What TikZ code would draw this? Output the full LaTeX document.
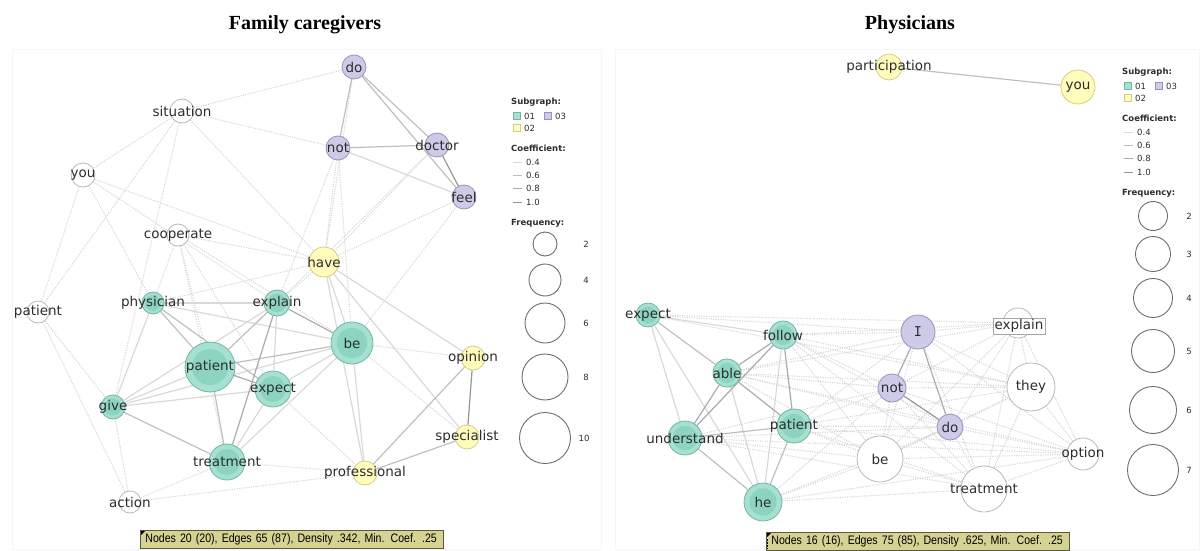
\documentclass[tikz,border=0pt]{standalone}
\usepackage{fontspec}
\newfontfamily\lblfont{DejaVu Sans}
\newfontfamily\serifI{DejaVu Sans Mono}
\newfontfamily\titlefont{Liberation Serif}
\newfontfamily\barfont[FakeStretch=0.86]{Liberation Sans}
\usetikzlibrary{backgrounds}

\definecolor{tout}{RGB}{166,224,208}
\definecolor{tin}{RGB}{140,212,192}
\definecolor{tbord}{RGB}{112,182,162}
\definecolor{pout}{RGB}{206,203,232}
\definecolor{pin}{RGB}{190,186,222}
\definecolor{pbord}{RGB}{150,146,190}
\definecolor{yfill}{RGB}{255,252,188}
\definecolor{ybord}{RGB}{212,206,132}
\definecolor{txtgray}{RGB}{45,45,45}
\definecolor{barfill}{RGB}{214,210,146}
\definecolor{bardraw}{RGB}{90,90,60}

\tikzset{
  lbl/.style={font=\lblfont\fontsize{13.5}{15}\selectfont, text=txtgray, inner sep=0pt},
  wnode/.style={circle, draw=gray!55, fill=white, line width=0.8pt, inner sep=0pt,
    minimum size={2*#1pt}},
  ynode/.style={circle, draw=ybord, fill=yfill, line width=0.8pt, inner sep=0pt,
    minimum size={2*#1pt}},
  tnode/.style={circle, draw=tbord, fill=tout, line width=0.8pt, inner sep=0pt,
    minimum size={2*#1pt},
    path picture={\fill[tin] (path picture bounding box.center) circle[radius={0.72*#1pt}];}},
  pnode/.style={circle, draw=pbord, fill=pout, line width=0.8pt, inner sep=0pt,
    minimum size={2*#1pt},
    path picture={\fill[pin] (path picture bounding box.center) circle[radius={0.72*#1pt}];}},
  dt/.style={draw=gray!32, line width=1.1pt, dash pattern=on 1.1pt off 1.3pt},
  c4/.style={draw=gray!30, line width=1.2pt},
  c6/.style={draw=gray!50, line width=1.2pt},
  c8/.style={draw=gray!66, line width=1.2pt},
  c10/.style={draw=gray!82, line width=1.2pt},
  leghead/.style={font=\lblfont\bfseries\fontsize{8.5}{10}\selectfont, text=txtgray, anchor=west, inner sep=0pt},
  legtxt/.style={font=\lblfont\fontsize{8.5}{10}\selectfont, text=txtgray, anchor=west, inner sep=0pt},
  freqtxt/.style={font=\lblfont\fontsize{8.5}{10}\selectfont, text=txtgray, inner sep=0pt},
  sqbox/.style={rectangle, minimum size=7.5pt, inner sep=0pt, line width=0.6pt},
  fcirc/.style={circle, draw=gray!85!black, line width=0.9pt, inner sep=0pt, minimum size={2*#1pt}},
  barbox/.style={rectangle, fill=barfill, draw=bardraw, line width=0.8pt, anchor=north west,
    minimum height=18pt, inner xsep=5pt, inner ysep=0pt, text=black,
    font=\barfont\fontsize{12.3}{13}\selectfont},
  ttl/.style={font=\titlefont\bfseries\fontsize{20}{22}\selectfont, inner sep=0pt},
}

% subgraph and coefficient keys, placed by the scope that calls it
\newcommand\keyblock[1]{%
  \node[leghead] (#1head) at (0,0) {Subgraph:};
  \node[sqbox, fill=tout, draw=tbord] (#1sqa) at (6,14) {};
  \node[legtxt] (#1ta) at (13,14) {01};
  \node[sqbox, fill=pout, draw=pbord] (#1sqc) at (37,14) {};
  \node[legtxt] (#1tc) at (44,14) {03};
  \node[sqbox, fill=yfill, draw=ybord] (#1sqb) at (6,26) {};
  \node[legtxt] (#1tb) at (13,26) {02};
  \node[leghead] (#1coef) at (0,46) {Coefficient:};
  \draw[c4, line width=1pt] (2,60) -- (11,60);
  \node[legtxt] (#1ca) at (15,60) {0.4};
  \draw[c6, line width=1pt] (2,73) -- (11,73);
  \node[legtxt] (#1cb) at (15,73) {0.6};
  \draw[c8, line width=1pt] (2,86.5) -- (11,86.5);
  \node[legtxt] (#1cc) at (15,86.5) {0.8};
  \draw[c10, line width=1pt] (2,100) -- (11,100);
  \node[legtxt] (#1cd) at (15,100) {1.0};
  \node[leghead] (#1freq) at (0,121) {Frequency:};
}

\begin{document}
\begin{tikzpicture}[x=1pt, y=-1pt]
\useasboundingbox (0,0) rectangle (1200,551);

% panel frames
\draw[gray!7, line width=0.8pt] (12,49) rectangle (601,549);
\draw[gray!7, line width=0.8pt] (615,49) rectangle (1199,549);

% titles
\node[ttl] (title1) at (305,25) {Family caregivers};
\node[ttl] (title2) at (910,25) {Physicians};

% ---------------- Family caregivers ----------------
\node[pnode=12, label={[lbl]center:do}] (Ldo) at (354,67) {};
\node[wnode=12, label={[lbl]center:situation}] (Lsituation) at (182,111) {};
\node[pnode=12, label={[lbl]center:not}] (Lnot) at (338,148) {};
\node[pnode=12, label={[lbl]center:doctor}] (Ldoctor) at (437,145) {};
\node[pnode=12, label={[lbl]center:feel}] (Lfeel) at (464,197) {};
\node[wnode=12, label={[lbl]center:you}] (Lyou) at (83,175) {};
\node[wnode=11, label={[lbl]center:cooperate}] (Lcooperate) at (178,235) {};
\node[ynode=15, label={[lbl]center:have}] (Lhave) at (324,262) {};
\node[tnode=11, label={[lbl]center:physician}] (Lphysician) at (153,303) {};
\node[tnode=13, label={[lbl]center:explain}] (Lexplain) at (277,303) {};
\node[tnode=21, label={[lbl]center:be}] (Lbe) at (352,343) {};
\node[wnode=11, label={[lbl]center:patient}] (Lpatientw) at (38,312) {};
\node[tnode=25, label={[lbl]center:patient}] (Lpatient) at (210,367) {};
\node[tnode=18, label={[lbl]center:expect}] (Lexpect) at (273,389) {};
\node[tnode=12, label={[lbl]center:give}] (Lgive) at (113,407) {};
\node[tnode=18, label={[lbl]center:treatment}] (Ltreatment) at (227,462) {};
\node[wnode=11, label={[lbl]center:action}] (Laction) at (130,502) {};
\node[ynode=12, label={[lbl]center:professional}] (Lprofessional) at (365,473) {};
\node[ynode=12, label={[lbl]center:opinion}] (Lopinion) at (473,358) {};
\node[ynode=12, label={[lbl]center:specialist}] (Lspecialist) at (467,437) {};

\begin{pgfonlayer}{background}
  % weak links
  \foreach \a/\b in {Lsituation/Ldo, Lsituation/Lnot, Lsituation/Lyou, Lsituation/Lpatientw,
      Lsituation/Lhave, Lsituation/Lgive, Lyou/Lpatientw, Lyou/Lphysician, Lyou/Lhave,
      Lyou/Lexplain, Lcooperate/Lphysician, Lcooperate/Lpatient, Lcooperate/Lexpect,
      Lcooperate/Lbe, Lcooperate/Lhave, Lcooperate/Ltreatment, Lpatientw/Lgive,
      Lpatientw/Laction, Laction/Lgive, Laction/Ltreatment, Laction/Lprofessional,
      Lnot/Lhave, Lnot/Lbe, Lnot/Lexplain, Ldoctor/Lhave, Ldoctor/Lexplain,
      Lfeel/Lhave, Lfeel/Lbe, Lbe/Lopinion, Lbe/Lspecialist, Lexpect/Lprofessional,
      Ltreatment/Lprofessional, Lhave/Lphysician, Lhave/Lexplain, Ldo/Lhave}
    \draw[dt] (\a) -- (\b);
  % coefficient-weighted links
  \foreach \a/\b in {Lnot/Lfeel, Lhave/Lbe, Lhave/Lprofessional, Lhave/Lspecialist,
      Lhave/Lopinion, Lphysician/Lexplain, Lphysician/Lbe, Lphysician/Lgive,
      Lexplain/Lexpect, Lexplain/Lgive, Lpatient/Lgive, Lexpect/Lbe, Lexpect/Ltreatment,
      Lexpect/Lgive, Lbe/Ltreatment, Lbe/Lgive, Lbe/Lprofessional}
    \draw[c4] (\a) -- (\b);
  \foreach \a/\b in {Ldo/Lnot, Ldo/Ldoctor, Ldo/Lfeel, Lnot/Ldoctor, Lphysician/Lpatient,
      Lphysician/Lexpect, Lexplain/Lpatient, Lpatient/Lbe, Lpatient/Ltreatment,
      Lgive/Ltreatment, Lopinion/Lprofessional, Lspecialist/Lprofessional}
    \draw[c6] (\a) -- (\b);
  \foreach \a/\b in {Lexplain/Ltreatment, Lexplain/Lbe, Lpatient/Lexpect}
    \draw[c8] (\a) -- (\b);
  \foreach \a/\b in {Ldoctor/Lfeel, Lopinion/Lspecialist}
    \draw[c10] (\a) -- (\b);
\end{pgfonlayer}

% legend
\begin{scope}[shift={(511,102)}]
  \keyblock{La}
\end{scope}
\node[fcirc=12] (Lf2) at (545,244) {};
\node[fcirc=16] (Lf4) at (545,280) {};
\node[fcirc=20] (Lf6) at (545,323) {};
\node[fcirc=23] (Lf8) at (545,377) {};
\node[fcirc=25.5] (Lf10) at (545,438) {};
\node[freqtxt] (Lf2t) at (586,244) {2};
\node[freqtxt] (Lf4t) at (586,280) {4};
\node[freqtxt] (Lf6t) at (586,323) {6};
\node[freqtxt] (Lf8t) at (586,377) {8};
\node[freqtxt] (Lf10t) at (584,438) {10};

% status bar
\node[barbox, minimum width=303pt, text width=293pt] (Lbar) at (140,530)
  {Nodes 20 (20), Edges 65 (87), Density .342, Min. Coef. .25};
\fill[black] (Lbar.north west) ++(1,1) -- ++(4,0) -- ++(-4,4) -- cycle;

% ---------------- Physicians ----------------
\node[ynode=13, label={[lbl]center:participation}] (Rparticipation) at (889,67) {};
\node[ynode=17, label={[lbl]center:you}] (Ryou) at (1078,87) {};
\node[tnode=12, label={[lbl]center:expect}] (Rexpect) at (648,315) {};
\node[tnode=14, label={[lbl]center:follow}] (Rfollow) at (783,335) {};
\node[tnode=14, label={[lbl]center:able}] (Rable) at (727,373) {};
\node[tnode=17, label={[lbl]center:patient}] (Rpatient) at (794,426) {};
\node[tnode=17, label={[lbl]center:understand}] (Runderstand) at (685,438) {};
\node[tnode=19, label={[lbl]center:he}] (Rhe) at (763,502) {};
\node[pnode=17, label={[lbl, font=\serifI\fontsize{13.5}{15}\selectfont]center:I}] (RI) at (918,332) {};
\node[pnode=14, label={[lbl]center:not}] (Rnot) at (892,388) {};
\node[pnode=13, label={[lbl]center:do}] (Rdo) at (950,427) {};
\node[wnode=23, label={[lbl]center:be}] (Rbe) at (880,459) {};
\node[wnode=15] (Rexplain) at (1018,323) {};
\node[lbl, draw=gray!70, fill=white, line width=0.6pt, inner xsep=1.5pt, inner ysep=1.5pt] (Rexplainlbl) at (1019,326) {explain};
\node[wnode=24, label={[lbl]center:they}] (Rthey) at (1031,387) {};
\node[wnode=23, label={[lbl]center:treatment}] (Rtreatment) at (984,489) {};
\node[wnode=16, label={[lbl]center:option}] (Roption) at (1083,454) {};

\begin{pgfonlayer}{background}
  \foreach \a/\b in {Rexpect/RI, Rexpect/Rexplain, Rexpect/Rthey, Rfollow/RI, Rfollow/Rexplain,
      Rfollow/Rnot, Rfollow/Rbe, Rfollow/Rdo, Rfollow/Rthey, Rfollow/Rtreatment,
      Rable/RI, Rable/Rnot, Rable/Rthey, Rable/Rbe, Rable/Rdo, Rable/Rexplain, Rable/Roption,
      Rpatient/Rnot, Rpatient/Rbe, Rpatient/Rdo, Rpatient/Rtreatment, Rpatient/Roption,
      Rpatient/Rthey, Rpatient/RI, Runderstand/Rbe, Runderstand/Rtreatment, Runderstand/Rdo,
      Runderstand/Roption, Runderstand/Rnot, Rhe/Rbe, Rhe/Rtreatment, Rhe/Rdo, Rhe/Roption,
      Rhe/Rnot, RI/Rexplain, RI/Rthey, RI/Rbe, RI/Rtreatment, RI/Roption, Rnot/Rbe,
      Rnot/Rthey, Rnot/Rexplain, Rnot/Rtreatment, Rnot/Roption, Rdo/Rbe, Rdo/Rthey,
      Rdo/Rexplain, Rdo/Rtreatment, Rdo/Roption, Rbe/Rtreatment, Rbe/Roption, Rbe/Rexplain,
      Rbe/Rthey, Rexplain/Rthey, Rexplain/Roption, Rexplain/Rtreatment, Rthey/Roption,
      Rthey/Rtreatment, Rtreatment/Roption}
    \draw[dt] (\a) -- (\b);
  \foreach \a/\b in {Rexpect/Rfollow, Rexpect/Runderstand, Rexpect/Rhe, Rfollow/Rhe, Rable/Rhe}
    \draw[c4] (\a) -- (\b);
  \foreach \a/\b in {Rexpect/Rable, Runderstand/Rpatient, Runderstand/Rhe, Rpatient/Rhe,
      Rparticipation/Ryou}
    \draw[c6] (\a) -- (\b);
  \foreach \a/\b in {Rfollow/Rable, Rfollow/Runderstand, Rfollow/Rpatient, Rable/Runderstand,
      Rable/Rpatient, RI/Rnot, RI/Rdo}
    \draw[c8] (\a) -- (\b);
  \draw[c10] (Rnot) -- (Rdo);
\end{pgfonlayer}

% legend
\begin{scope}[shift={(1122,72)}]
  \keyblock{Ra}
\end{scope}
\node[fcirc=14.5] (Rf2) at (1153,216) {};
\node[fcirc=17.5] (Rf3) at (1153,254) {};
\node[fcirc=19.5] (Rf4) at (1153,298) {};
\node[fcirc=21.5] (Rf5) at (1153,351) {};
\node[fcirc=23.5] (Rf6) at (1153,410) {};
\node[fcirc=25.5] (Rf7) at (1153,470) {};
\node[freqtxt] (Rf2t) at (1189,216) {2};
\node[freqtxt] (Rf3t) at (1189,254) {3};
\node[freqtxt] (Rf4t) at (1189,298) {4};
\node[freqtxt] (Rf5t) at (1189,351) {5};
\node[freqtxt] (Rf6t) at (1189,410) {6};
\node[freqtxt] (Rf7t) at (1189,470) {7};

% status bar
\node[barbox, minimum width=303pt, text width=293pt] (Rbar) at (766,532)
  {Nodes 16 (16), Edges 75 (85), Density .625, Min. Coef. .25};
\fill[black] (Rbar.north west) ++(1,1) -- ++(4,0) -- ++(-4,4) -- cycle;
\draw[black, line width=0.6pt, dash pattern=on 1.5pt off 1.5pt] (Rbar.north west) ++(1,7) -- ++(0,10);
\end{tikzpicture}
\end{document}
